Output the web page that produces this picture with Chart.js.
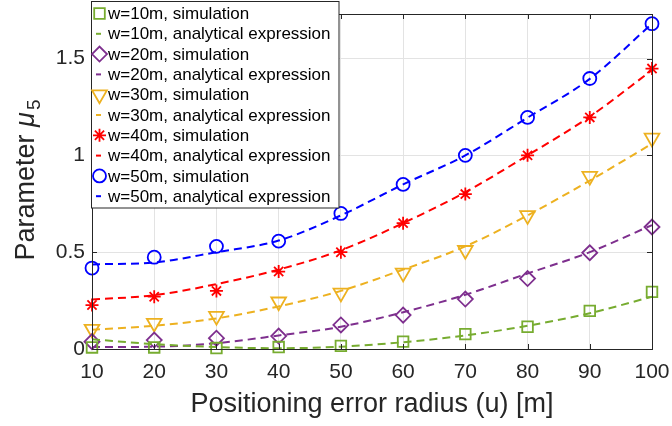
<!DOCTYPE html>
<html lang="en">
<head>
  <meta charset="UTF-8" />
  <title>Parameter mu5 vs positioning error radius</title>
  <script src="https://cdn.jsdelivr.net/npm/chart.js"></script>
  <style>
    html, body {
      margin: 0;
      padding: 0;
      background: #fff;
    }
    #wrap {
      width: 672px;
      height: 426px;
      position: relative;
    }
  </style>
</head>
<body>
  <div id="wrap">
    <canvas id="chart" width="672" height="426"></canvas>
  </div>

  <script>
    // positioning error radius u [m]
    const radius = [10, 20, 30, 40, 50, 60, 70, 80, 90, 100];

    // simulation points
    const sim10 = [0.008, 0.008, 0.005, 0.010, 0.016, 0.038, 0.077, 0.115, 0.197, 0.295];
    const sim20 = [0.038, 0.046, 0.056, 0.067, 0.124, 0.175, 0.258, 0.364, 0.497, 0.630];
    const sim30 = [0.103, 0.134, 0.170, 0.244, 0.290, 0.393, 0.510, 0.690, 0.893, 1.090];
    const sim40 = [0.227, 0.270, 0.300, 0.400, 0.500, 0.650, 0.800, 1.000, 1.196, 1.448];
    const sim50 = [0.418, 0.474, 0.530, 0.557, 0.700, 0.850, 1.000, 1.196, 1.397, 1.680];

    // analytical expression
    const ana10 = [0.050, 0.025, 0.010, 0.004, 0.012, 0.035, 0.070, 0.120, 0.185, 0.270];
    const ana20 = [0.010, 0.012, 0.030, 0.070, 0.115, 0.190, 0.280, 0.390, 0.500, 0.640];
    const ana30 = [0.100, 0.120, 0.158, 0.220, 0.300, 0.410, 0.530, 0.690, 0.870, 1.060];
    const ana40 = [0.255, 0.278, 0.335, 0.410, 0.510, 0.650, 0.810, 1.000, 1.200, 1.440];
    const ana50 = [0.437, 0.447, 0.500, 0.560, 0.690, 0.850, 1.000, 1.195, 1.395, 1.680];

    const widths = ['10', '20', '30', '40', '50'];
    const colors = ['#77AC30', '#7E2F8E', '#EDB120', '#FF0000', '#0000FF'];
    const xTicks = [10, 20, 30, 40, 50, 60, 70, 80, 90, 100];
    const yTicks = [0, 0.5, 1, 1.5];

    const FONT = "'Liberation Sans', Arial, Helvetica, sans-serif";
    const INK = '#262626';

    const markers = [
      { pointStyle: 'rect', radius: 7.5, rotation: 0 },
      { pointStyle: 'rectRot', radius: 7.5, rotation: 0 },
      { pointStyle: 'triangle', radius: 8.5, rotation: 180 },
      { pointStyle: 'star', radius: 6.5, rotation: 0 },
      { pointStyle: 'circle', radius: 6.5, rotation: 0 }
    ];

    const sims = [sim10, sim20, sim30, sim40, sim50];
    const anas = [ana10, ana20, ana30, ana40, ana50];

    const datasets = [];
    widths.forEach((w, i) => {
      datasets.push({
        label: 'w=' + w + 'm, simulation',
        data: radius.map((x, k) => ({ x: x, y: sims[i][k] })),
        showLine: false,
        borderColor: colors[i],
        backgroundColor: 'transparent',
        pointStyle: markers[i].pointStyle,
        pointRadius: markers[i].radius,
        rotation: markers[i].rotation,
        pointBorderWidth: 1.8,
        pointBorderColor: colors[i],
        pointBackgroundColor: 'transparent',
        clip: false,
        kind: 'sim',
        marker: markers[i]
      });
      datasets.push({
        label: 'w=' + w + 'm, analytical expression',
        data: radius.map((x, k) => ({ x: x, y: anas[i][k] })),
        showLine: true,
        borderColor: colors[i],
        backgroundColor: 'transparent',
        borderWidth: 2,
        borderDash: [8, 5],
        pointRadius: 0,
        cubicInterpolationMode: 'monotone',
        clip: false,
        kind: 'line'
      });
    });

    // box, inward ticks, axis titles and legend
    const matlabLook = {
      id: 'matlabLook',
      afterDraw(chart) {
        const ctx = chart.ctx;
        const a = chart.chartArea;
        const xs = chart.scales.x;
        const ys = chart.scales.y;
        ctx.save();
        ctx.strokeStyle = INK;
        ctx.lineWidth = 1;
        ctx.strokeRect(Math.round(a.left) + 0.5, Math.round(a.top) + 0.5,
          Math.round(a.right - a.left), Math.round(a.bottom - a.top));
        ctx.beginPath();
        xTicks.forEach(v => {
          const px = Math.round(xs.getPixelForValue(v)) + 0.5;
          ctx.moveTo(px, a.bottom); ctx.lineTo(px, a.bottom - 5);
          ctx.moveTo(px, a.top); ctx.lineTo(px, a.top + 5);
        });
        yTicks.forEach(v => {
          const py = Math.round(ys.getPixelForValue(v)) + 0.5;
          ctx.moveTo(a.left, py); ctx.lineTo(a.left + 5, py);
          ctx.moveTo(a.right, py); ctx.lineTo(a.right - 5, py);
        });
        ctx.stroke();

        // x title
        ctx.fillStyle = INK;
        ctx.font = '27px ' + FONT;
        ctx.textAlign = 'center';
        ctx.textBaseline = 'alphabetic';
        ctx.fillText('Positioning error radius (u) [m]', 372, 412);

        // y title: Parameter mu_5
        ctx.save();
        ctx.translate(34, 180);
        ctx.rotate(-Math.PI / 2);
        const t1 = 'Parameter ';
        ctx.font = '27px ' + FONT;
        const w1 = ctx.measureText(t1).width;
        ctx.font = 'italic 27px ' + FONT;
        const w2 = ctx.measureText('\u03bc').width;
        ctx.font = '19px ' + FONT;
        const w3 = ctx.measureText('5').width;
        let x0 = -(w1 + w2 + w3 + 2) / 2;
        ctx.textAlign = 'left';
        ctx.font = '27px ' + FONT;
        ctx.fillText(t1, x0, 0);
        ctx.font = 'italic 27px ' + FONT;
        ctx.fillText('\u03bc', x0 + w1, 0);
        ctx.font = '19px ' + FONT;
        ctx.fillText('5', x0 + w1 + w2 + 2, 6);
        ctx.restore();

        // legend
        const lx = 91.5, ly = 1.5, lw = 247.5, lh = 206.5;
        ctx.fillStyle = '#fff';
        ctx.fillRect(lx, ly, lw, lh);
        ctx.strokeStyle = INK;
        ctx.lineWidth = 1;
        ctx.strokeRect(lx, ly, lw, lh);
        ctx.font = '17px ' + FONT;
        ctx.textAlign = 'left';
        ctx.textBaseline = 'middle';
        chart.data.datasets.forEach((ds, i) => {
          const cy = 13.5 + i * 20.3;
          if (ds.kind === 'sim') {
            ctx.save();
            ctx.strokeStyle = ds.borderColor;
            ctx.fillStyle = 'transparent';
            ctx.lineWidth = 1.8;
            Chart.helpers.drawPoint(ctx, {
              pointStyle: ds.marker.pointStyle,
              radius: ds.marker.radius,
              rotation: ds.marker.rotation,
              borderWidth: 1.8
            }, 99.5, cy);
            ctx.restore();
          } else {
            ctx.save();
            ctx.strokeStyle = ds.borderColor;
            ctx.lineWidth = 2;
            ctx.beginPath();
            ctx.moveTo(96, cy); ctx.lineTo(101, cy);
            ctx.stroke();
            ctx.restore();
          }
          ctx.fillStyle = '#000';
          ctx.fillText(ds.label, 108, cy + 1);
        });
        ctx.restore();
      }
    };

    new Chart(document.getElementById('chart'), {
      type: 'scatter',
      data: { datasets: datasets },
      options: {
        responsive: false,
        animation: false,
        events: [],
        layout: { padding: { left: 0, top: 14, right: 20, bottom: 0 } },
        plugins: {
          legend: { display: false },
          tooltip: { enabled: false }
        },
        scales: {
          x: {
            type: 'linear',
            min: 10,
            max: 100,
            afterBuildTicks: s => { s.ticks = xTicks.map(v => ({ value: v })); },
            afterFit: s => {
              s.height = 77;
              s.paddingLeft = 0;
              s.paddingRight = 0;
            },
            grid: { color: '#e3e3e3', drawTicks: false },
            border: { display: false },
            ticks: {
              color: INK,
              padding: 11,
              maxRotation: 0,
              font: { family: FONT, size: 21 }
            }
          },
          y: {
            type: 'linear',
            min: 0,
            max: 1.73,
            afterBuildTicks: s => { s.ticks = yTicks.map(v => ({ value: v })); },
            afterFit: s => {
              s.width = 92;
              s.paddingTop = 0;
              s.paddingBottom = 0;
            },
            grid: { color: '#e3e3e3', drawTicks: false },
            border: { display: false },
            ticks: {
              color: INK,
              padding: 7,
              font: { family: FONT, size: 21 },
              callback: v => String(v)
            }
          }
        }
      },
      plugins: [matlabLook]
    });
  </script>
</body>
</html>
